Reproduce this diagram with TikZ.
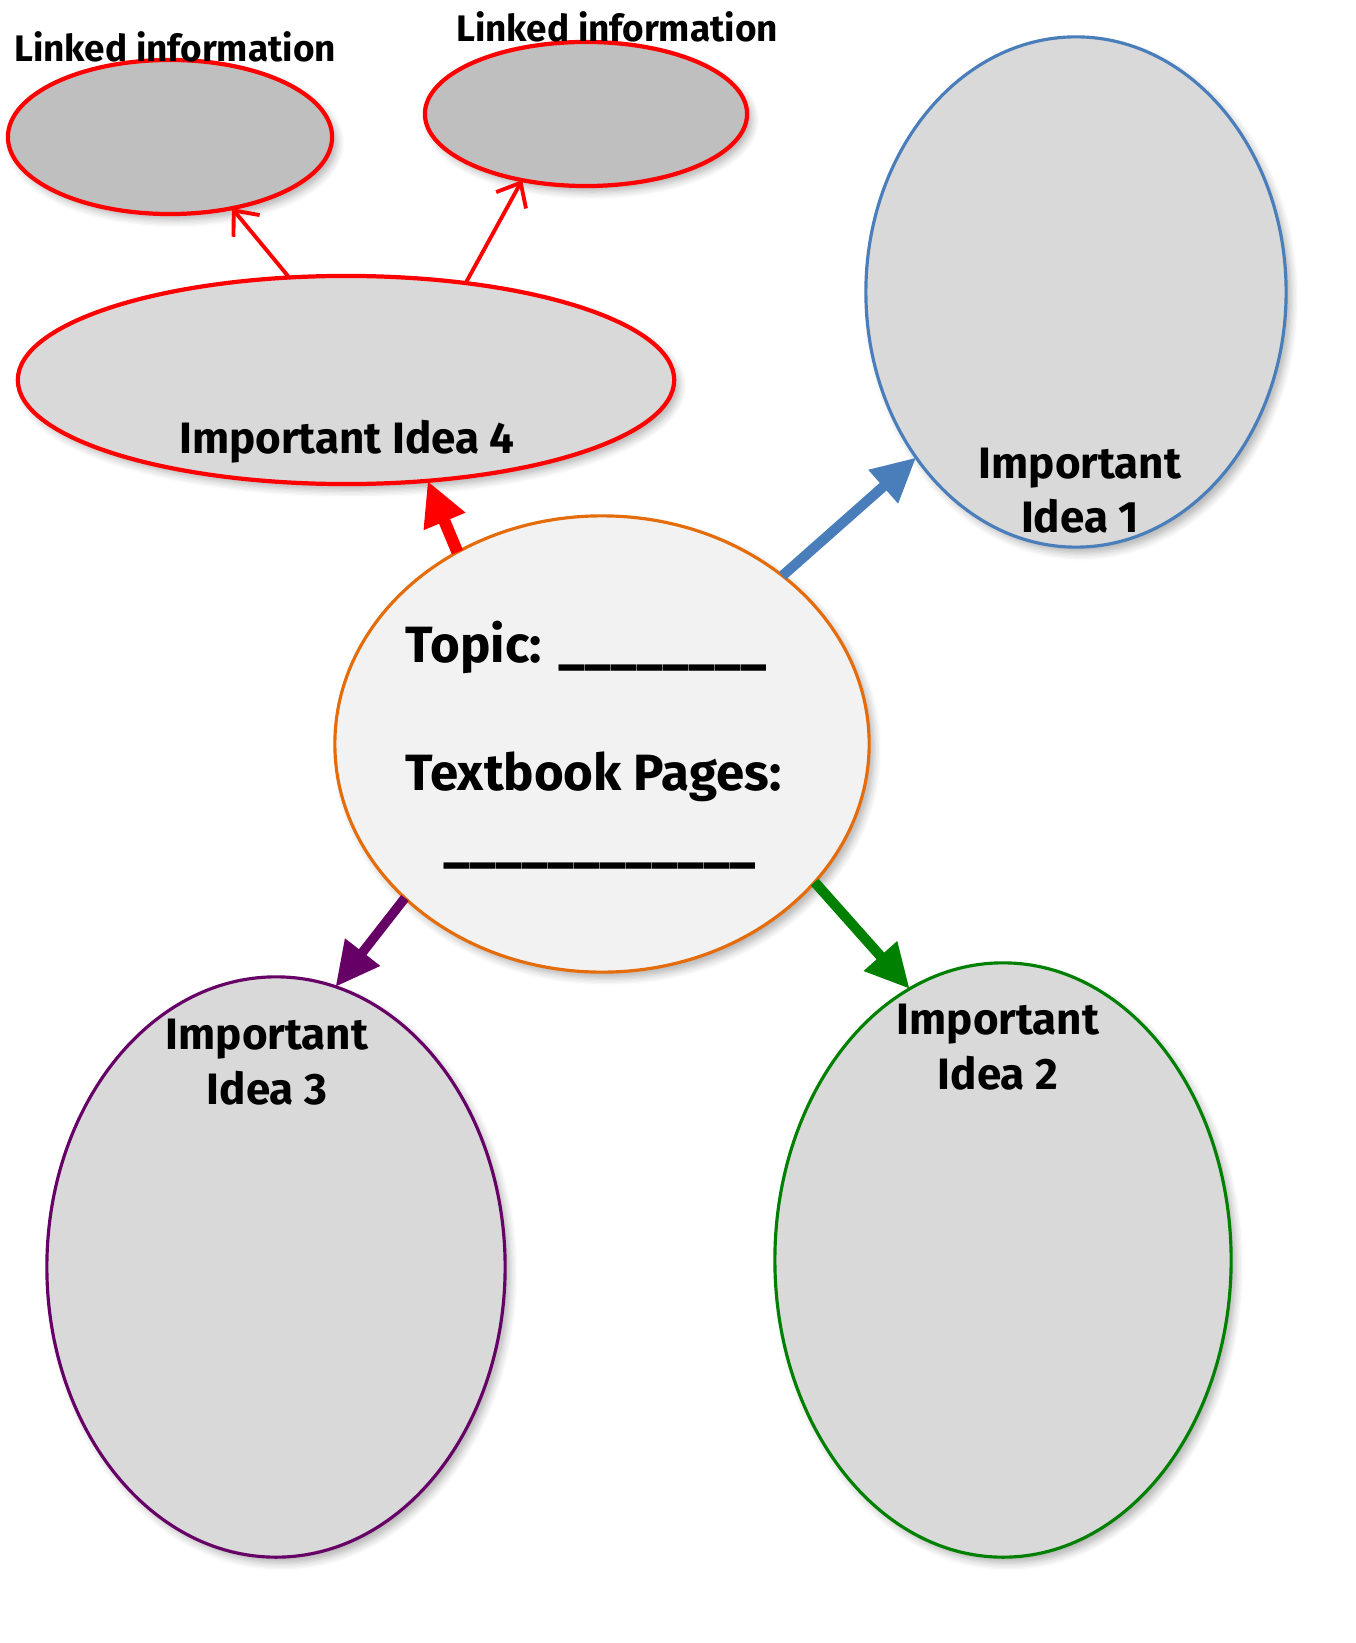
\documentclass[tikz,border=0pt]{standalone}
\usepackage{fontspec}
\setmainfont{Fira Sans}
\usetikzlibrary{shapes.geometric,arrows.meta,shadows.blur}
\definecolor{ideablue}{HTML}{4A7EBB}
\definecolor{topicorange}{HTML}{E46C0A}
\definecolor{ideapurple}{HTML}{660066}
\definecolor{ideagreen}{HTML}{008000}
\definecolor{ideafill}{HTML}{D9D9D9}
\definecolor{linkfill}{HTML}{BFBFBF}
\definecolor{topicfill}{HTML}{F2F2F2}
\tikzset{
  bubble/.style={ellipse,draw,line width=0.9pt,fill=ideafill,inner sep=0pt,outer sep=0pt,
    blur shadow={shadow xshift=0.05cm,shadow yshift=-0.06cm,shadow blur steps=6,shadow opacity=30}},
  linkbubble/.style={bubble,draw=red,line width=1.2pt,fill=linkfill},
  ideatext/.style={font=\bfseries\fontsize{12.5}{15.6}\selectfont,align=center,anchor=base,inner sep=0pt},
  linktext/.style={font=\bfseries\fontsize{10.5}{12}\selectfont,anchor=base,inner sep=0pt},
  topictext/.style={font=\bfseries\fontsize{14.5}{17}\selectfont,anchor=base west,inner sep=0pt},
  fatarrow/.style={line width=#1,-{Triangle[length=0.44cm,width=0.42cm]}},
  linkarrow/.style={draw=red,line width=1.1pt,-{Straight Barb[length=0.2cm,width=0.34cm]}}
}
\begin{document}
\begin{tikzpicture}[x=0.01cm,y=-0.01cm]
\useasboundingbox (0,0) rectangle (1355,1643);
% the bubbles
\node[linkbubble,minimum width=3.24cm,minimum height=1.54cm] (link1) at (170,137) {};
\node[linkbubble,minimum width=3.22cm,minimum height=1.44cm] (link2) at (586,114) {};
\node[bubble,draw=red,line width=1.2pt,minimum width=6.56cm,minimum height=2.08cm] (idea4) at (346,380) {};
\node[bubble,draw=ideablue,minimum width=4.20cm,minimum height=5.10cm] (idea1) at (1076,292) {};
\node[bubble,draw=topicorange,fill=topicfill,minimum width=5.34cm,minimum height=4.56cm] (topic) at (602,744) {};
\node[bubble,draw=ideapurple,minimum width=4.58cm,minimum height=5.80cm] (idea3) at (276,1267) {};
\node[bubble,draw=ideagreen,minimum width=4.56cm,minimum height=5.94cm] (idea2) at (1003,1260) {};
% texts (base = last line)
\node[linktext] (linklabel1) at (175,62) {Linked information};
\node[linktext] (linklabel2) at (617,42) {Linked information};
\node[ideatext] (idea4label) at (347,454) {Important Idea 4};
\node[ideatext] (idea1label) at (1080,533) {Important\\Idea 1};
\node[ideatext] (idea3label) at (267,1104) {Important\\Idea 3};
\node[ideatext] (idea2label) at (998,1089) {Important\\Idea 2};
\node[topictext] (topiclabel) at (405,662) {Topic: \_\_\_\_\_\_\_\_};
\node[topictext] (pageslabel) at (405,790) {Textbook Pages:};
\node[topictext] (pagesline) at (443,860) {\_\_\_\_\_\_\_\_\_\_\_\_};
% arrows
\draw[fatarrow=3.4pt,red] (topic.127) -- (idea4.-51);
\draw[fatarrow=2.9pt,ideablue] (topic.43) -- (idea1.226);
\draw[fatarrow=2.7pt,ideapurple] (topic.218) -- (idea3.78);
\draw[fatarrow=2.9pt,ideagreen] (topic.-33) -- (idea2.109);
\draw[linkarrow] (idea4.119) -- (link1.-49);
\draw[linkarrow] (idea4.39) -- (link2.226);
\end{tikzpicture}
\end{document}
